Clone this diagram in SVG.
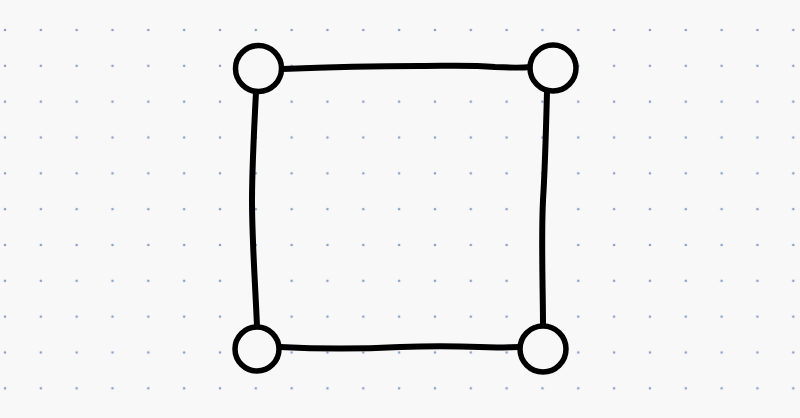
<svg xmlns="http://www.w3.org/2000/svg" width="800" height="418" viewBox="0 0 800 418">
  <style>
    .edge { fill: none; stroke: #000; stroke-width: 6; stroke-linecap: round; stroke-linejoin: round; }
    .node { fill: #f8f8f8; stroke: #000; stroke-width: 5.5; }
  </style>
  <defs>
    <pattern id="dots" patternUnits="userSpaceOnUse" x="-12.915" y="12.085" width="35.83" height="35.83">
      <circle cx="17.915" cy="17.915" r="1.3" fill="#8aa0c8"/>
    </pattern>
  </defs>
  <rect width="800" height="418" fill="#f8f8f8"/>
  <rect width="800" height="418" fill="url(#dots)"/>
  <g id="connectors">
    <path class="edge" d="M282 69 C330 67 380 66 420 66 C450 66 470 65 495 67 C515 68 522 68 530 67"/>
    <path class="edge" d="M256 92 C254 130 252 170 252 200 C252 240 255 280 257 326"/>
    <path class="edge" d="M547 92 C546 130 545 170 543 200 C541 240 543 290 543 326"/>
    <path class="edge" d="M280 347 C320 349 360 349 400 347 C430 346 450 346 480 347 C500 348 510 347 520 347"/>
  </g>
  <g id="node-tl"><circle class="node" cx="258.5" cy="68.5" r="23"/></g>
  <g id="node-tr"><circle class="node" cx="553" cy="68" r="23"/></g>
  <g id="node-bl"><circle class="node" cx="257" cy="349" r="22"/></g>
  <g id="node-br"><circle class="node" cx="543" cy="349" r="23"/></g>
</svg>
